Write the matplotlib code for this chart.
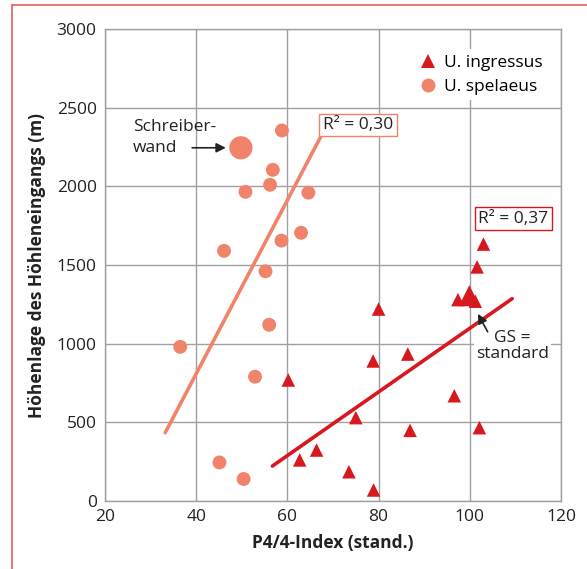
import matplotlib
matplotlib.use('Agg')
import matplotlib.pyplot as plt
from matplotlib.lines import Line2D

plt.rcParams['font.family'] = ['Open Sans', 'DejaVu Sans']

RED = '#D7191F'
SALMON = '#F0836A'
GRID = '#A0A0A0'
FS = 12.5

# U. spelaeus (circles)
spel_x = [58.8, 56.8, 56.2, 50.8, 64.6, 63.0, 58.7, 46.1, 55.2, 56.0, 36.5, 52.9, 45.1, 50.4]
spel_y = [2355, 2105, 2010, 1965, 1960, 1705, 1655, 1590, 1460, 1120, 980, 790, 245, 140]
# Schreiberwand (large circle)
schreib_x = [49.8]
schreib_y = [2245]

# U. ingressus (triangles)
ingr_x = [103.0, 101.6, 97.4, 101.2, 80.0, 86.4, 78.8, 60.2, 96.6, 75.0, 86.9, 102.1, 66.4, 62.7, 73.5, 78.9]
ingr_y = [1633, 1488, 1280, 1270, 1220, 934, 890, 769, 669, 530, 449, 466, 324, 261, 186, 70]
# GS = standard (large triangle)
gs_x = [99.9]
gs_y = [1305]

# regression lines (end points)
spel_fit_x = [33.2, 67.5]
spel_fit_y = [434, 2326]
ingr_fit_x = [56.7, 109.3]
ingr_fit_y = [222, 1286]

fig = plt.figure(figsize=(5.87, 5.69), dpi=100)
ax = fig.add_axes([105 / 587, 68 / 569, 456 / 587, 472 / 569])

ax.set_xlim(20, 120)
ax.set_ylim(0, 3000)
ax.set_xticks([20, 40, 60, 80, 100, 120])
ax.set_yticks([0, 500, 1000, 1500, 2000, 2500, 3000])
ax.grid(True, color=GRID, lw=1)
ax.set_axisbelow(True)
for s in ax.spines.values():
    s.set_color(GRID)
    s.set_linewidth(1)
ax.tick_params(length=0, labelsize=FS, colors='#222222', pad=6)

ax.plot(spel_fit_x, spel_fit_y, color=SALMON, lw=2.6, solid_capstyle='round', zorder=2)
ax.plot(ingr_fit_x, ingr_fit_y, color=RED, lw=2.6, solid_capstyle='round', zorder=2)

ax.scatter(spel_x, spel_y, s=100, color=SALMON, edgecolors='none', zorder=3)
ax.scatter(schreib_x, schreib_y, s=280, color=SALMON, edgecolors='none', zorder=3)
ax.scatter(ingr_x, ingr_y, marker='^', s=95, color=RED, edgecolors='none', zorder=3)
ax.scatter(gs_x, gs_y, marker='^', s=230, color=RED, edgecolors='none', zorder=3)

# R² labels
ax.text(67.8, 2390, 'R² = 0,30', fontsize=FS, ha='left', va='center', color='#222222',
        bbox=dict(boxstyle='square,pad=0.2', facecolor='white', edgecolor=SALMON, lw=1), zorder=4)
ax.text(101.9, 1795, 'R² = 0,37', fontsize=FS, ha='left', va='center', color='#222222',
        bbox=dict(boxstyle='square,pad=0.2', facecolor='white', edgecolor=RED, lw=1), zorder=4)

# annotations
ax.text(26.2, 2380, 'Schreiber-', fontsize=FS, ha='left', va='center', color='#222222')
ax.text(26.2, 2245, 'wand', fontsize=FS, ha='left', va='center', color='#222222')
ax.annotate('', xy=(47.1, 2245), xytext=(38.5, 2245),
            arrowprops=dict(arrowstyle='-|>', color='#222222', lw=1.2, mutation_scale=14), zorder=4)
ax.text(109.4, 985, 'GS =\nstandard', fontsize=FS, ha='center', va='center', color='#222222',
        linespacing=1.05, bbox=dict(boxstyle='square,pad=0.1', facecolor='white', edgecolor='none'), zorder=4)
ax.annotate('', xy=(101.5, 1205), xytext=(104.2, 1060),
            arrowprops=dict(arrowstyle='-|>', color='#222222', lw=1.2, mutation_scale=14), zorder=4)

ax.set_xlabel('P4/4-Index (stand.)', fontsize=FS, fontweight='bold', color='#222222', labelpad=6)
ax.set_ylabel('Höhenlage des Höhleneingangs (m)', fontsize=FS, fontweight='bold', color='#222222', labelpad=8)

handles = [
    Line2D([], [], marker='^', ls='none', color=RED, markersize=10, markeredgewidth=0),
    Line2D([], [], marker='o', ls='none', color=SALMON, markersize=10, markeredgewidth=0),
]
leg = ax.legend(handles, ['U. ingressus', 'U. spelaeus'], loc='upper right',
                bbox_to_anchor=(0.99, 0.975), frameon=True, fontsize=FS,
                handletextpad=0.3, labelspacing=0.45, borderpad=0.3, handlelength=1.2)
leg.get_frame().set_facecolor('white')
leg.get_frame().set_edgecolor('none')
leg.get_frame().set_alpha(1)
leg.get_frame().set_boxstyle('square', pad=0)

# red frame lines (left and top)
fig.add_artist(Line2D([12 / 587, 12 / 587], [0, 1 - 5 / 569], color='#E06060', lw=1.2,
                      transform=fig.transFigure))
fig.add_artist(Line2D([12 / 587, 1], [1 - 5 / 569, 1 - 5 / 569], color='#E06060', lw=1.2,
                      transform=fig.transFigure))

fig.savefig('out.png', dpi=100, facecolor='white')
